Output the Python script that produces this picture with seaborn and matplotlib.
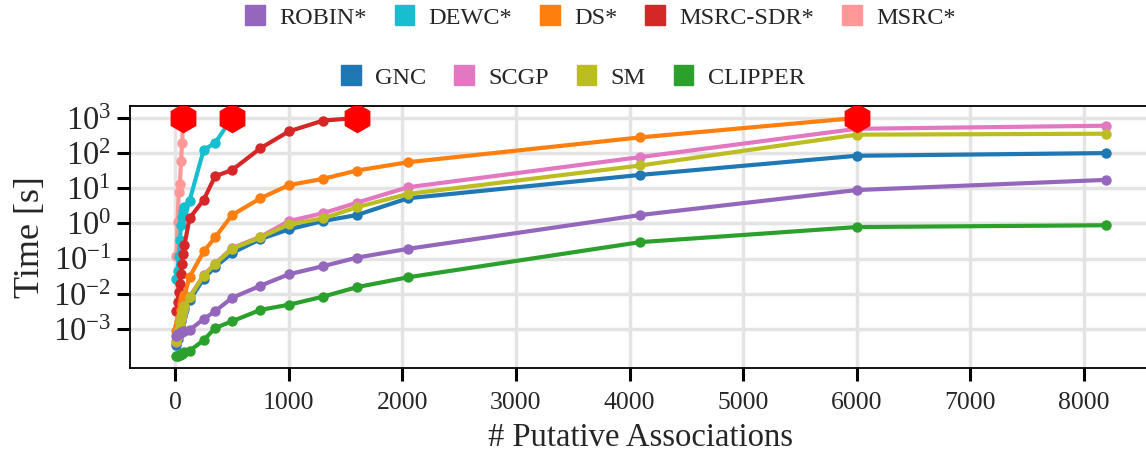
import matplotlib
matplotlib.use("Agg")
import matplotlib.pyplot as plt
import pandas as pd
import seaborn as sns
from matplotlib.patches import Patch

# Problem sizes (number of putative associations) shared by all methods
SIZES = [10, 20, 30, 40, 50, 60, 70, 80, 125, 250, 350, 500, 750,
         1000, 1300, 1600, 2048, 4096, 6000, 8192]

# Runtime in seconds; methods that hit the time limit stop at TIMEOUT
TIMEOUT = 1000

ROBIN = [6.5e-4, 7.0e-4, 7.3e-4, 7.6e-4, 8.0e-4, 8.3e-4, 8.6e-4, 8.9e-4, 9.3e-4,
         1.93e-3, 3.2e-3, 7.7e-3, 0.017, 0.036, 0.061, 0.107, 0.19, 1.74, 8.9, 17.3]
DEWC = [0.026, 0.045, 0.12, 0.33, 0.9, 1.5, 2.2, 3.0, 4.4, 124, 193, 1000]
DS = [9e-4, 1.2e-3, 1.6e-3, 2.2e-3, 3.5e-3, 5e-3, 7e-3, 9e-3, 0.03, 0.16, 0.40,
      1.74, 5.2, 12.3, 18.5, 32, 55, 280, 1000]
MSRC_SDR = [0.0033, 0.0057, 0.011, 0.019, 0.037, 0.072, 0.14, 0.24, 1.4, 4.7,
            22, 33, 138, 414, 837, 1000]
MSRC = [0.12, 1.1, 8, 13, 58, 193, 1000]
GNC = [3.6e-4, 5.2e-4, 8e-4, 1.2e-3, 1.7e-3, 2.3e-3, 3.0e-3, 3.8e-3, 6.5e-3,
       0.027, 0.058, 0.145, 0.36, 0.68, 1.17, 1.74, 5.2, 24, 84, 100]
SCGP = [4.3e-4, 6.3e-4, 9.5e-4, 1.4e-3, 2.0e-3, 2.7e-3, 3.5e-3, 4.4e-3, 8.2e-3,
        0.034, 0.072, 0.2, 0.42, 1.17, 1.95, 3.9, 10.7, 77, 490, 600]
SM = [4.5e-4, 6.5e-4, 1.0e-3, 1.5e-3, 2.1e-3, 2.8e-3, 3.6e-3, 4.5e-3, 7.9e-3,
      0.033, 0.069, 0.19, 0.40, 0.95, 1.39, 2.9, 6.9, 44.5, 334, 355]
CLIPPER = [1.7e-4, 1.75e-4, 1.8e-4, 1.85e-4, 1.9e-4, 2.0e-4, 2.1e-4, 2.2e-4, 2.4e-4,
           4.8e-4, 1.07e-3, 1.66e-3, 3.5e-3, 4.9e-3, 8.3e-3, 0.0155, 0.0295,
           0.295, 0.79, 0.89]

LEGEND_ROW1 = ["ROBIN*", "DEWC*", "DS*", "MSRC-SDR*", "MSRC*"]
LEGEND_ROW2 = ["GNC", "SCGP", "SM", "CLIPPER"]

series = {
    "ROBIN*": ROBIN, "DEWC*": DEWC, "DS*": DS, "MSRC-SDR*": MSRC_SDR,
    "MSRC*": MSRC, "GNC": GNC, "SCGP": SCGP, "SM": SM, "CLIPPER": CLIPPER,
}
colors = {
    "ROBIN*": "#9467bd", "DEWC*": "#17becf", "DS*": "#ff7f0e",
    "MSRC-SDR*": "#d62728", "MSRC*": "#ff9896", "GNC": "#1f77b4",
    "SCGP": "#e377c2", "SM": "#bcbd22", "CLIPPER": "#2ca02c",
}
draw_order = ["MSRC*", "DEWC*", "MSRC-SDR*", "DS*", "GNC", "SCGP", "SM",
              "ROBIN*", "CLIPPER"]

rows = []
for name, times in series.items():
    for n, t in zip(SIZES, times):
        rows.append({"method": name, "n": n, "time": t})
df = pd.DataFrame(rows)

timeouts = pd.DataFrame(
    [{"n": SIZES[len(v) - 1], "time": v[-1]} for v in series.values()
     if v[-1] >= TIMEOUT]
)

sns.set_theme(style="whitegrid")
plt.rcParams["font.family"] = ["Liberation Serif", "DejaVu Serif"]
plt.rcParams["mathtext.fontset"] = "stix"

W, H = 1146, 457
fig = plt.figure(figsize=(W / 100, H / 100), dpi=100)
ax = fig.add_axes([130 / W, 1 - 368 / H, (1152 - 130) / W, (368 - 106) / H])

for name in draw_order:
    sub = df[df["method"] == name]
    sns.lineplot(data=sub, x="n", y="time", color=colors[name], marker="o",
                 markersize=7.5, markeredgewidth=0, linewidth=3,
                 estimator=None, sort=False, ax=ax, legend=False)

sns.scatterplot(data=timeouts, x="n", y="time", marker="h", s=460,
                color="#ff0000", linewidth=0, zorder=10, ax=ax, legend=False)

ax.set_yscale("log")
ax.set_yticks([10.0 ** k for k in range(-3, 4)])
ax.minorticks_off()
ax.set_xticks(range(0, 8001, 1000))
ax.margins(x=0.05, y=0.05)

ax.grid(True, color="#e4e4e4", linewidth=2.5)
for s in ax.spines.values():
    s.set_color("black")
    s.set_linewidth(1.3)
ax.tick_params(axis="both", direction="out", length=9.5, width=2.2,
               color="black", bottom=True, left=True)
ax.tick_params(axis="x", labelsize=18.5, pad=8)
ax.tick_params(axis="y", labelsize=23.5, pad=4)

ax.set_xlabel("# Putative Associations", fontsize=23.5, labelpad=6)
ax.set_ylabel("Time [s]", fontsize=26, labelpad=4)

leg_kw = dict(frameon=False, fontsize=17.5, handlelength=0.8, handleheight=0.9,
              handletextpad=0.6, columnspacing=1.15, borderaxespad=0)
fig.legend(handles=[Patch(color=colors[n]) for n in LEGEND_ROW1],
           labels=LEGEND_ROW1, ncol=5, loc="center",
           bbox_to_anchor=(0.524, 1 - 17 / H), **leg_kw)
fig.legend(handles=[Patch(color=colors[n]) for n in LEGEND_ROW2],
           labels=LEGEND_ROW2, ncol=4, loc="center",
           bbox_to_anchor=(0.500, 1 - 77 / H), **leg_kw)

fig.savefig("out.png", dpi=100)
